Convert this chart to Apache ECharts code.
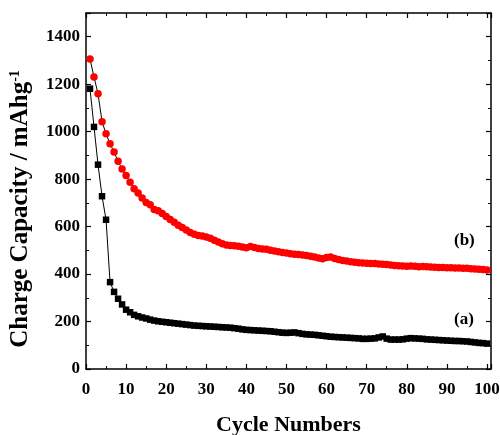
<!DOCTYPE html>
<html>
<head>
<meta charset="utf-8">
<script src="https://cdn.jsdelivr.net/npm/echarts@6/dist/echarts.min.js"></script>
<style>
  html, body { margin: 0; padding: 0; background: #fff; }
  #main { width: 500px; height: 435px; }
</style>
</head>
<body>
<div id="main"></div>
<script>
// cycle numbers 1..100
const cycles = Array.from({ length: 100 }, (_, i) => i + 1);

// (a) black squares
const capacityA = [
  1181, 1020, 861, 728, 629, 366, 325, 296, 272, 250,
  239, 228, 222, 217, 213, 208, 204, 201, 199, 197,
  195, 193, 191, 189, 187, 185, 183, 182, 181, 180,
  179, 178, 177, 176, 175, 174, 172, 170, 167, 165,
  164, 163, 162, 161, 160, 159, 157, 155, 153, 152,
  153, 154, 151, 148, 146, 145, 144, 142, 140, 138,
  136, 135, 134, 133, 132, 131, 130, 129, 127, 127,
  128, 129, 133, 137, 128, 124, 124, 124, 125, 128,
  130, 129, 128, 127, 125, 124, 123, 122, 121, 120,
  119, 118, 118, 117, 116, 114, 112, 110, 109, 107
];

// (b) red circles
const capacityB = [
  1306, 1230, 1160, 1042, 991, 949, 914, 875, 843, 815,
  787, 760, 742, 721, 702, 692, 672, 667, 655, 643,
  630, 618, 606, 596, 586, 575, 568, 563, 560, 556,
  551, 543, 535, 528, 522, 520, 519, 517, 514, 511,
  516, 512, 508, 506, 505, 500, 497, 494, 491, 489,
  486, 484, 482, 480, 478, 475, 472, 468, 465, 470,
  472, 466, 461, 457, 455, 452, 450, 448, 447, 446,
  445, 444, 442, 441, 440, 438, 436, 435, 434, 433,
  434, 433, 431, 432, 431, 430, 429, 428, 428, 427,
  427, 426, 426, 424, 424, 422, 421, 420, 419, 417
];

const xTicks = [0, 10, 20, 30, 40, 50, 60, 70, 80, 90, 100];
const yTicks = [0, 200, 400, 600, 800, 1000, 1200, 1400];

const font = '"Liberation Serif", "Times New Roman", serif';

const chart = echarts.init(document.getElementById('main'));

const axisCommon = {
  axisLine: { show: true, onZero: false, lineStyle: { color: '#000', width: 1.5 } },
  axisTick: { show: true, inside: true, length: 5, lineStyle: { color: '#000', width: 1.2 } },
  minorTick: { show: true, splitNumber: 2, length: 3, lineStyle: { color: '#000', width: 1 } },
  splitLine: { show: false }
};

chart.setOption({
  animation: false,
  backgroundColor: '#fff',
  grid: { left: 86, right: 9, top: 13, bottom: 66, outerBoundsMode: 'none', containLabel: false },
  xAxis: [
    Object.assign({
      type: 'value', min: 0, max: 101, interval: 10, position: 'bottom',
      name: 'Cycle Numbers', nameLocation: 'middle', nameGap: 45, nameMoveOverlap: false,
      nameTextStyle: { fontFamily: font, fontWeight: 'bold', fontSize: 22, color: '#000' },
      axisLabel: {
        fontFamily: font, fontWeight: 'bold', fontSize: 17, color: '#000', margin: 12,
        formatter: v => (xTicks.includes(v) ? String(v) : '')
      }
    }, axisCommon),
    Object.assign({
      type: 'value', min: 0, max: 101, interval: 10, position: 'top',
      axisLabel: { show: false }
    }, axisCommon)
  ],
  yAxis: [
    Object.assign({
      type: 'value', min: 0, max: 1500, interval: 200, position: 'left',
      name: '{t|Charge Capacity / mAhg}{s|-1}', nameLocation: 'middle', nameGap: 52, nameMoveOverlap: false,
      nameTextStyle: {
        padding: [0, 36, 0, 0],
        rich: {
          t: { fontFamily: font, fontWeight: 'bold', fontSize: 25, color: '#000' },
          s: { fontFamily: font, fontWeight: 'bold', fontSize: 14, color: '#000', verticalAlign: 'top', padding: [0, 0, 12, 0] }
        }
      },
      axisLabel: {
        fontFamily: font, fontWeight: 'bold', fontSize: 17, color: '#000', margin: 6,
        formatter: v => (yTicks.includes(v) ? String(v) : '')
      }
    }, axisCommon),
    Object.assign({
      type: 'value', min: 0, max: 1500, interval: 200, position: 'right',
      axisLabel: { show: false }
    }, axisCommon)
  ],
  series: [
    {
      name: '(a)', type: 'line',
      data: cycles.map((c, i) => [c, capacityA[i]]),
      symbol: 'rect', symbolSize: 6.5,
      itemStyle: { color: '#000' },
      lineStyle: { color: '#000', width: 1 }
    },
    {
      name: '(b)', type: 'line',
      data: cycles.map((c, i) => [c, capacityB[i]]),
      symbol: 'circle', symbolSize: 7.5,
      itemStyle: { color: '#ff0000' },
      lineStyle: { color: '#000', width: 1 }
    }
  ],
  graphic: [
    { type: 'text', left: 454, top: 311, style: { text: '(a)', font: 'bold 17px ' + font, fill: '#000' } },
    { type: 'text', left: 454, top: 232, style: { text: '(b)', font: 'bold 17px ' + font, fill: '#000' } }
  ]
});
</script>
</body>
</html>
